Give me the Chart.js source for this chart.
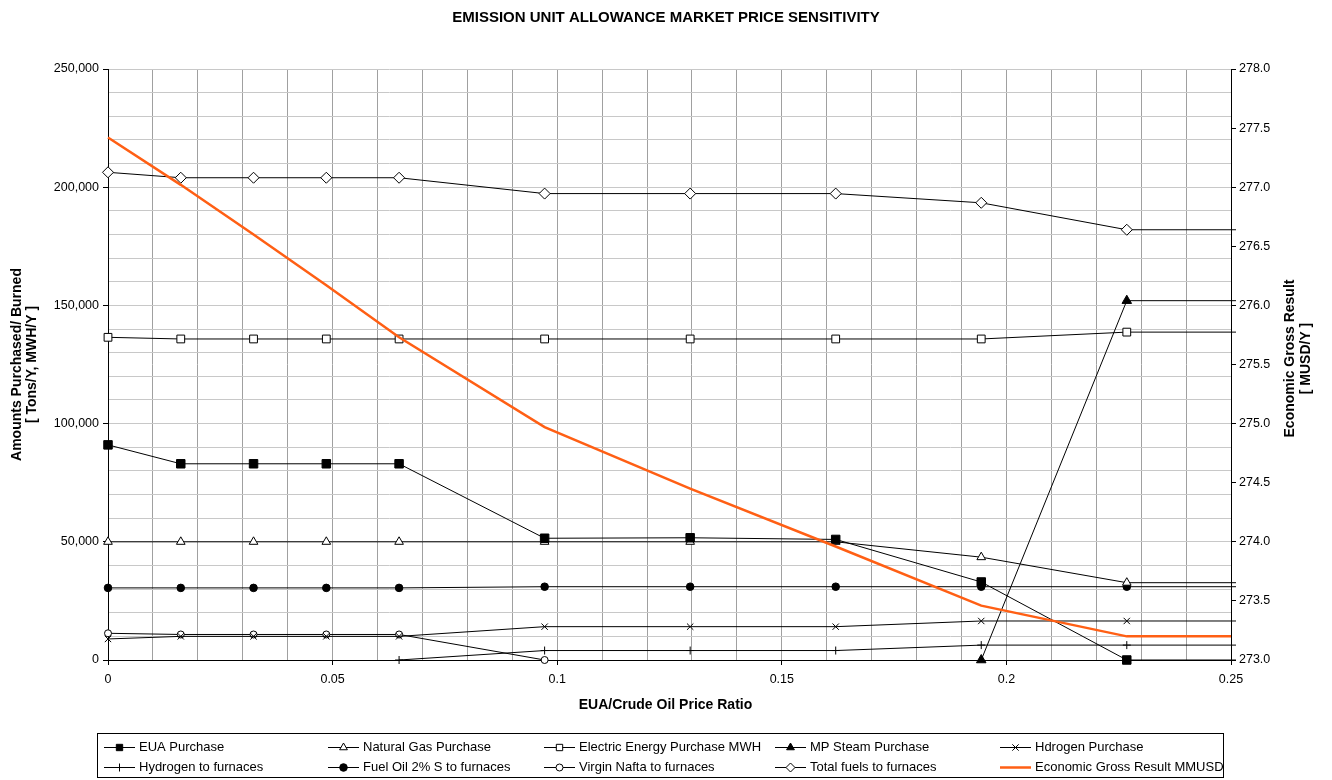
<!DOCTYPE html>
<html>
<head>
<meta charset="utf-8">
<title>Emission Unit Allowance Market Price Sensitivity</title>
<script src="https://cdn.jsdelivr.net/npm/chart.js@4.4.1/dist/chart.umd.min.js"></script>
<style>
    html, body { margin: 0; padding: 0; background: #ffffff; }
</style>
</head>
<body>
<canvas id="chart" width="1332" height="780"></canvas>
<script>
// EUA / crude oil price ratio of each case (last one lies past the axis end)
const priceRatio = [0, 0.0162, 0.0324, 0.0486, 0.0648, 0.0972, 0.1296, 0.162, 0.1944, 0.2268, 0.2592];

// Amounts purchased / burned, Tons/Y or MWH/Y
const euaPurchase      = [91000, 83000, 83000, 83000, 83000, 51500, 51700, 51000, 33000, 0, 0];
const naturalGas       = [50000, 50000, 50000, 50000, 50000, 50000, 50000, 50000, 43500, 32700, 32700];
const electricEnergy   = [136500, 135800, 135800, 135800, 135800, 135800, 135800, 135800, 135800, 138700, 138700];
const mpSteam          = [null, null, null, null, null, null, null, null, 0, 152000, 152000];
const hydrogenPurchase = [8900, 10000, 10000, 10000, 10000, 14100, 14100, 14100, 16500, 16500, 16500];
const hydrogenFurnaces = [null, null, null, null, 0, 4000, 4000, 4000, 6300, 6300, 6300];
const fuelOil          = [30500, 30500, 30500, 30500, 30500, 31000, 31000, 31000, 31000, 31000, 31000];
const virginNafta      = [11300, 10800, 10800, 10800, 10800, 0, null, null, null, null, null];
const totalFuels       = [206300, 204000, 204000, 204000, 204000, 197300, 197300, 197300, 193400, 182000, 182000];

// Economic gross result, MUSD/Y (right axis)
const economicResult   = [277.42, 277.02, 276.60, 276.17, 275.73, 274.97, 274.45, 273.96, 273.46, 273.20, 273.20];

const FONT = "'Liberation Sans', Arial, sans-serif";
const ORANGE = '#ff5f14';

function toPoints(values) {
    return priceRatio.map((x, i) => ({ x: x, y: values[i] }));
}

// black series with Excel-like markers
function blackSeries(label, values, pointStyle, radius, filled) {
    return {
        label: label,
        data: toPoints(values),
        borderColor: '#000000',
        borderWidth: 1,
        pointStyle: pointStyle,
        pointRadius: radius,
        pointBorderWidth: 1,
        pointBorderColor: '#000000',
        pointBackgroundColor: filled ? '#000000' : '#ffffff',
        yAxisID: 'y',
        order: 1,
        clip: { left: 10, top: 10, right: 5, bottom: 10 }
    };
}

const datasets = [
    blackSeries('EUA Purchase', euaPurchase, 'rect', 6, true),
    blackSeries('Natural Gas Purchase', naturalGas, 'triangle', 5, false),
    blackSeries('Electric Energy Purchase MWH', electricEnergy, 'rect', 5.5, false),
    blackSeries('MP Steam Purchase', mpSteam, 'triangle', 5.5, true),
    blackSeries('Hdrogen Purchase', hydrogenPurchase, 'crossRot', 4.5, false),
    blackSeries('Hydrogen to furnaces', hydrogenFurnaces, 'cross', 4, false),
    blackSeries('Fuel Oil 2% S to furnaces', fuelOil, 'circle', 3.8, true),
    blackSeries('Virgin Nafta to furnaces', virginNafta, 'circle', 3.5, false),
    blackSeries('Total fuels to furnaces', totalFuels, 'rectRot', 5.5, false),
    {
        label: 'Economic Gross Result MMUSD',
        data: toPoints(economicResult),
        borderColor: ORANGE,
        borderWidth: 2.5,
        pointRadius: 0,
        yAxisID: 'y2',
        order: 0,
        clip: { left: 10, top: 10, right: 0, bottom: 10 }
    }
];

// legend box drawn as a 5 x 2 grid like the spreadsheet one
const legendCols = [104, 328, 544, 775, 1000];
const legendRows = [747, 767];

const gridLegend = {
    id: 'gridLegend',
    afterDraw(chart) {
        const ctx = chart.ctx;
        ctx.save();
        ctx.strokeStyle = '#000000';
        ctx.lineWidth = 1;
        ctx.strokeRect(97.5, 733.5, 1126, 44);

        ctx.font = '13px ' + FONT;
        ctx.textBaseline = 'middle';
        ctx.textAlign = 'left';

        chart.data.datasets.forEach((ds, i) => {
            const x = legendCols[i % 5];
            const y = Math.round(legendRows[Math.floor(i / 5)]) + 0.5;

            ctx.strokeStyle = ds.borderColor;
            ctx.lineWidth = ds.borderWidth;
            ctx.beginPath();
            ctx.moveTo(x, y);
            ctx.lineTo(x + 31, y);
            ctx.stroke();

            if (ds.pointRadius) {
                ctx.fillStyle = ds.pointBackgroundColor;
                ctx.strokeStyle = ds.pointBorderColor;
                ctx.lineWidth = 1;
                Chart.helpers.drawPoint(ctx, {
                    pointStyle: ds.pointStyle,
                    radius: Math.min(ds.pointRadius, 4.5),
                    rotation: 0,
                    borderWidth: 1
                }, x + 15.5, y);
            }

            ctx.fillStyle = '#000000';
            ctx.fillText(ds.label, x + 35, y);
        });
        ctx.restore();
    }
};

// axis titles (right one reads bottom to top, as in the original)
const axisTitles = {
    id: 'axisTitles',
    afterDraw(chart) {
        const { ctx, chartArea } = chart;
        const midY = (chartArea.top + chartArea.bottom) / 2;
        ctx.save();
        ctx.fillStyle = '#000000';
        ctx.font = 'bold 14px ' + FONT;
        ctx.textAlign = 'center';
        ctx.textBaseline = 'middle';

        ctx.save();
        ctx.translate(17, midY);
        ctx.rotate(-Math.PI / 2);
        ctx.fillText('Amounts Purchased/ Burned', 0, 0);
        ctx.fillText('[ Tons/Y, MWH/Y ]', 0, 15);
        ctx.restore();

        ctx.save();
        ctx.translate(1290, midY - 6);
        ctx.rotate(-Math.PI / 2);
        ctx.fillText('Economic Gross Result', 0, 0);
        ctx.fillText('[ MUSD/Y ]', 0, 16);
        ctx.restore();

        ctx.fillText('EUA/Crude Oil Price Ratio', (chartArea.left + chartArea.right) / 2 - 4, 705);
        ctx.restore();
    }
};

const tickFont = { family: FONT, size: 12.5 };

new Chart(document.getElementById('chart'), {
    type: 'line',
    data: { datasets: datasets },
    options: {
        responsive: false,
        animation: false,
        layout: { padding: { left: 0, right: 0, top: 0, bottom: 60 } },
        plugins: {
            legend: { display: false },
            tooltip: { enabled: false },
            title: {
                display: true,
                text: 'EMISSION UNIT ALLOWANCE MARKET PRICE SENSITIVITY',
                color: '#000000',
                font: { family: FONT, size: 15, weight: 'bold' },
                padding: { top: 9, bottom: 42 }
            }
        },
        scales: {
            x: {
                type: 'linear',
                min: 0,
                max: 0.25,
                afterFit: (scale) => { scale.height = 60; },
                ticks: {
                    stepSize: 0.01,
                    autoSkip: false,
                    maxRotation: 0,
                    padding: 7,
                    color: '#000000',
                    font: tickFont,
                    callback: (value) => {
                        const hundredths = Math.round(value * 100);
                        return hundredths % 5 === 0 ? String(hundredths / 100) : '';
                    }
                },
                grid: {
                    color: '#a0a0a0',
                    tickLength: 5,
                    tickColor: (ctx) => Math.round(ctx.tick.value * 100) % 5 === 0 ? '#000000' : 'rgba(0,0,0,0)'
                },
                border: { color: '#000000', width: 1 }
            },
            y: {
                position: 'left',
                min: 0,
                max: 250000,
                afterFit: (scale) => { scale.width = 108; },
                ticks: {
                    stepSize: 10000,
                    autoSkip: false,
                    padding: 4,
                    color: '#000000',
                    font: tickFont,
                    callback: (value) => value % 50000 === 0 ? value.toLocaleString('en-US') : ''
                },
                grid: {
                    color: '#c8c8c8',
                    tickLength: 5,
                    tickColor: (ctx) => ctx.tick.value % 50000 === 0 ? '#000000' : 'rgba(0,0,0,0)'
                },
                border: { color: '#000000', width: 1 }
            },
            y2: {
                position: 'right',
                min: 273,
                max: 278,
                afterFit: (scale) => { scale.width = 101; },
                ticks: {
                    stepSize: 0.5,
                    padding: 3,
                    color: '#000000',
                    font: tickFont,
                    callback: (value) => value.toFixed(1)
                },
                grid: {
                    drawOnChartArea: false,
                    tickLength: 5,
                    tickColor: '#000000'
                },
                border: { color: '#000000', width: 1 }
            }
        }
    },
    plugins: [axisTitles, gridLegend]
});
</script>
</body>
</html>
